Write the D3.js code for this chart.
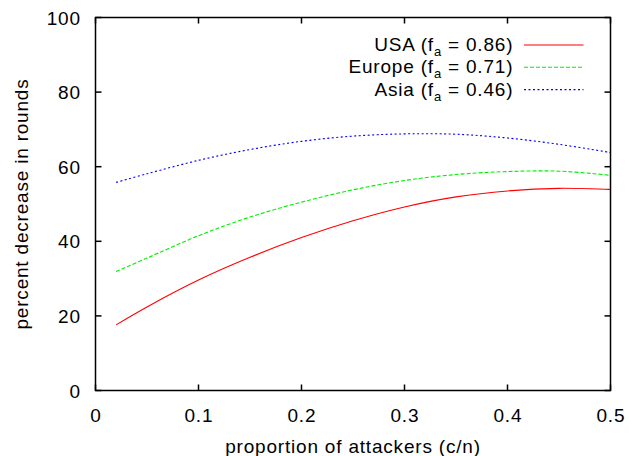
<!DOCTYPE html>
<html>
<head>
<meta charset="utf-8">
<script src="https://cdn.jsdelivr.net/npm/d3@7"></script>
<style>
  body { margin: 0; background: #fff; }
  svg { display: block; font-family: "Liberation Sans", Arial, sans-serif; }
</style>
</head>
<body>
<div id="chart"></div>
<script>
// proportion of attackers (c/n)
const xs = [0.02, 0.05, 0.1, 0.15, 0.2, 0.25, 0.3, 0.35, 0.4, 0.45, 0.5]
const usa = [17.6, 22.4, 29.6, 35.7, 41.0, 45.5, 49.2, 51.9, 53.5, 54.2, 53.9]
const europe = [31.9, 35.5, 41.5, 46.5, 50.5, 53.8, 56.3, 57.9, 58.7, 58.8, 57.7]
const asia = [55.8, 58.1, 61.7, 64.6, 66.8, 68.2, 68.8, 68.7, 67.7, 66.0, 63.8]

const xTicks = [0, 0.1, 0.2, 0.3, 0.4, 0.5]
const yTicks = [0, 20, 40, 60, 80, 100]

const series = [
  { name: "USA", fa: "0.86", values: usa, color: "#ff0000", dash: null },
  { name: "Europe", fa: "0.71", values: europe, color: "#00ee00", dash: "4,2" },
  { name: "Asia", fa: "0.46", values: asia, color: "#0000ff", dash: "2,2.5" }
]

const width = 629, height = 456
const marginLeft = 95.5, marginRight = 18.5, marginTop = 17.5, marginBottom = 65.5
const fs = 19
const ls = 0.8

const svg = d3.select("#chart")
  .append("svg")
  .attr("width", width)
  .attr("height", height)
  .attr("viewBox", [0, 0, width, height])
  .attr("letter-spacing", ls)

const x = d3.scaleLinear().domain([0, 0.5]).range([marginLeft, width - marginRight])
const y = d3.scaleLinear().domain([0, 100]).range([height - marginBottom, marginTop])

// ticks (inward, mirrored)
const tickLen = 6
const g = svg.append("g").attr("stroke", "#000").attr("stroke-width", 1.5)
xTicks.forEach(t => {
  g.append("line").attr("x1", x(t)).attr("x2", x(t)).attr("y1", y(0)).attr("y2", y(0) - tickLen)
  g.append("line").attr("x1", x(t)).attr("x2", x(t)).attr("y1", y(100)).attr("y2", y(100) + tickLen)
})
yTicks.forEach(t => {
  g.append("line").attr("x1", x(0)).attr("x2", x(0) + tickLen).attr("y1", y(t)).attr("y2", y(t))
  g.append("line").attr("x1", x(0.5)).attr("x2", x(0.5) - tickLen).attr("y1", y(t)).attr("y2", y(t))
})

// tick labels
svg.append("g")
  .attr("font-size", fs)
  .attr("text-anchor", "middle")
  .selectAll("text")
  .data(xTicks)
  .join("text")
  .attr("x", d => x(d) + ls / 2)
  .attr("y", y(0) + 31)
  .text(d => d3.format("")(d))

svg.append("g")
  .attr("font-size", fs)
  .attr("text-anchor", "end")
  .selectAll("text")
  .data(yTicks)
  .join("text")
  .attr("x", x(0) - 15.5 + ls)
  .attr("y", d => y(d) + 7)
  .text(d => d)

// axis titles
svg.append("text")
  .attr("font-size", fs)
  .attr("text-anchor", "middle")
  .attr("x", (x(0) + x(0.5)) / 2)
  .attr("y", 453)
  .text("proportion of attackers (c/n)")

svg.append("text")
  .attr("font-size", fs)
  .attr("text-anchor", "middle")
  .attr("transform", `translate(28,${(y(0) + y(100)) / 2}) rotate(-90)`)
  .text("percent decrease in rounds")

// curves
const line = d3.line()
  .x((d, i) => x(xs[i]))
  .y(d => y(d))
  .curve(d3.curveCatmullRom.alpha(0.5))

svg.append("g")
  .selectAll("path")
  .data(series)
  .join("path")
  .attr("fill", "none")
  .attr("stroke", d => d.color)
  .attr("stroke-width", 1.1)
  .attr("stroke-dasharray", d => d.dash)
  .attr("d", d => line(d.values))

// frame
svg.append("rect")
  .attr("x", x(0))
  .attr("y", y(100))
  .attr("width", x(0.5) - x(0))
  .attr("height", y(0) - y(100))
  .attr("fill", "none")
  .attr("stroke", "#000")
  .attr("stroke-width", 1.5)

// legend
const legend = svg.append("g").attr("font-size", fs)
series.forEach((s, i) => {
  const ly = 45 + i * 22.3
  const t = legend.append("text")
    .attr("x", 512.5 + ls)
    .attr("y", ly + 6)
    .attr("text-anchor", "end")
  t.append("tspan").text(`${s.name} (f`)
  t.append("tspan").attr("font-size", 13).attr("dy", 5).text("a")
  t.append("tspan").attr("dy", -5).text(` = ${s.fa})`)
  legend.append("line")
    .attr("x1", 524).attr("x2", 583.5)
    .attr("y1", ly).attr("y2", ly)
    .attr("stroke", s.color)
    .attr("stroke-width", 1.1)
    .attr("stroke-dasharray", s.dash)
})
</script>
</body>
</html>
